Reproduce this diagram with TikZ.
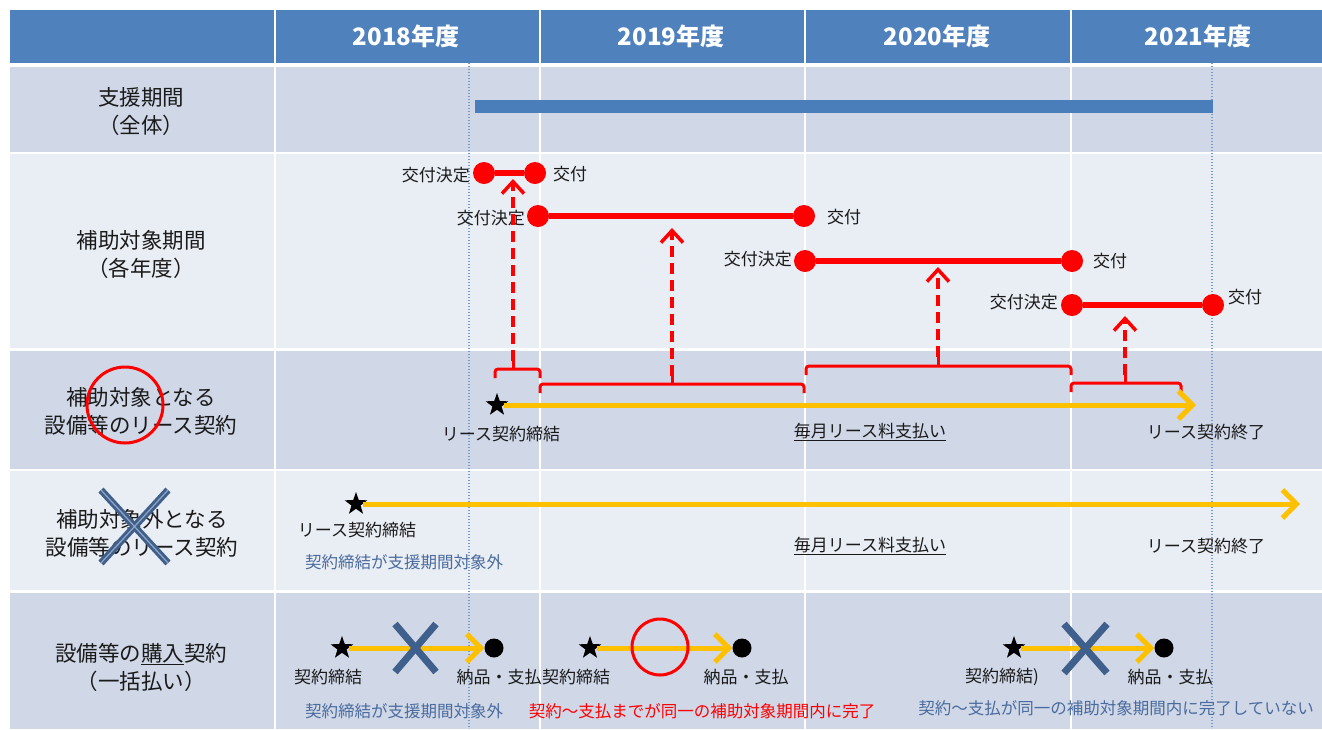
\documentclass[tikz,border=0pt]{standalone}
\usepackage{fontspec}
\setmainfont{Noto Sans CJK JP}
\usetikzlibrary{arrows.meta,shapes.geometric}
\definecolor{hdr}{HTML}{4F81BD}
\definecolor{rowdark}{HTML}{D0D8E8}
\definecolor{rowlight}{HTML}{E9EDF4}
\definecolor{barblue}{HTML}{4A7EBB}
\definecolor{orangeC}{HTML}{FFC000}
\definecolor{xblue}{HTML}{3F5F8C}
\definecolor{noteblue}{HTML}{4A6B9D}
\definecolor{txt}{HTML}{1A1A1A}
\begin{document}
\begin{tikzpicture}[x=1pt,y=-1pt,
  hdrtext/.style={text=white,font=\fontsize{24}{28}\selectfont\bfseries,inner sep=0},
  rowlab/.style={text=txt,font=\fontsize{21.5}{28}\selectfont,align=center,inner sep=0},
  lab/.style={text=txt,font=\fontsize{17}{20}\selectfont,inner sep=0},
  note/.style={font=\fontsize{16.5}{20}\selectfont,inner sep=0},
  redline/.style={draw=red,line width=6},
  reddot/.style={circle,fill=red,minimum size=22,inner sep=0},
  redarrow/.style={draw=red,line width=3.5,dash pattern=on 11 off 6,-{Straight Barb[length=12pt,width=22pt]}},
  bracketline/.style={draw=red,line width=3,rounded corners=3},
  orangearrow/.style={draw=orangeC,line width=5,-{Straight Barb[length=14pt,width=28pt]}},
  starmark/.style={star,star points=5,star point ratio=2.5,fill=black,minimum size=24,inner sep=0},
  blackdot/.style={circle,fill=black,minimum size=19,inner sep=0},
  xmark/.style={draw=xblue,line width=7},
  gridline/.style={draw=white,line width=2.5},
  dotline/.style={draw=hdr!80!white,line width=1.2,dash pattern=on 1.2 off 1.8}
]
\useasboundingbox (0,0) rectangle (1322,729);
% table background
\fill[hdr] (10,10) rectangle (1322,64);
\fill[rowdark] (10,64) rectangle (1322,153);
\fill[rowlight] (10,153) rectangle (1322,349.5);
\fill[rowdark] (10,349.5) rectangle (1322,470);
\fill[rowlight] (10,470) rectangle (1322,591.5);
\fill[rowdark] (10,591.5) rectangle (1322,729);
\foreach \yy in {65,153,349.5,470,591.5} \draw[gridline] (10,\yy) -- (1322,\yy);
\draw[gridline,line width=3.5] (10,65) -- (1322,65);
\foreach \xx in {274.5,539.5,805,1070.5} \draw[gridline,line width=2] (\xx,10) -- (\xx,729);
% dotted guides
\draw[dotline] (469,63) -- (469,729);
\draw[dotline] (1212,63) -- (1212,729);
% header
\node[hdrtext] (h1) at (406,36) {2018年度};
\node[hdrtext] (h2) at (671,36) {2019年度};
\node[hdrtext] (h3) at (937,36) {2020年度};
\node[hdrtext] (h4) at (1198,36) {2021年度};
% row labels
\node[rowlab] (r1) at (141,111) {支援期間\\（全体）};
\node[rowlab] (r2) at (141,254) {補助対象期間\\（各年度）};
\node[rowlab] (r3) at (141,411) {補助対象となる\\設備等のリース契約};
\node[rowlab] (r4) at (142,533) {補助対象外となる\\設備等のリース契約};
\node[rowlab] (r5) at (141,667) {設備等の\underline{購入}契約\\（一括払い）};
% support period bar
\draw[draw=barblue,line width=13] (475,106.5) -- (1213,106.5);
% grant periods
\node[reddot] (a1) at (484,173) {};
\node[reddot] (b1) at (535,173) {};
\node[reddot] (a2) at (538,216) {};
\node[reddot] (b2) at (804,216) {};
\node[reddot] (a3) at (805,261) {};
\node[reddot] (b3) at (1072,261) {};
\node[reddot] (a4) at (1072,305) {};
\node[reddot] (b4) at (1213,305) {};
\draw[redline] (a1) -- (b1);
\draw[redline] (a2) -- (b2);
\draw[redline] (a3) -- (b3);
\draw[redline] (a4) -- (b4);
\node[lab,anchor=east] (k1) at (470,175) {交付決定};
\node[lab,anchor=west] (g1) at (553,174) {交付};
\node[lab,anchor=east] (k2) at (525,218) {交付決定};
\node[lab,anchor=west] (g2) at (827,217) {交付};
\node[lab,anchor=east] (k3) at (792,259) {交付決定};
\node[lab,anchor=west] (g3) at (1093,261) {交付};
\node[lab,anchor=east] (k4) at (1058,302) {交付決定};
\node[lab,anchor=west] (g4) at (1228,297) {交付};
% brackets
\draw[bracketline] (495,378) -- (495,369) -- (540,369) -- (540,378);
\draw[bracketline] (513,369) -- (513,361);
\draw[bracketline] (540,393) -- (540,384) -- (804,384) -- (804,393);
\draw[bracketline] (672,384) -- (672,376);
\draw[bracketline] (806,375) -- (806,366) -- (1071,366) -- (1071,375);
\draw[bracketline] (938,366) -- (938,357);
\draw[bracketline] (1071,392) -- (1071,383) -- (1181,383) -- (1181,392);
\draw[bracketline] (1125,383) -- (1125,375);
\coordinate (p1) at (513,361);
\coordinate (t1) at (513,179);
\coordinate (p2) at (672,376);
\coordinate (t2) at (672,228);
\coordinate (p3) at (938,357);
\coordinate (t3) at (938,267);
\coordinate (p4) at (1125,375);
\coordinate (t4) at (1125,316);
\draw[redarrow] (p1) -- (t1);
\draw[redarrow] (p2) -- (t2);
\draw[redarrow] (p3) -- (t3);
\draw[redarrow] (p4) -- (t4);
% row 3: eligible lease
\node[draw=red,line width=3,circle,minimum size=76,inner sep=0] (c1) at (125,405) {};
\node[starmark] (s3) at (497,405) {};
\coordinate (e3) at (1196,405);
\draw[orangearrow] (s3) -- (e3);
\node[lab] (l3a) at (501,434) {リース契約締結};
\node[lab] (l3b) at (870,432) {\underline{毎月リース料支払い}};
\node[lab] (l3c) at (1206,432) {リース契約終了};
% row 4: non-eligible lease
\draw[xmark] (101,490) -- (168,563);
\draw[xmark] (168,490) -- (101,563);
\draw[draw=xblue!55!white,line width=1.2] (101,490) -- (168,563);
\draw[draw=xblue!55!white,line width=1.2] (168,490) -- (101,563);
\node[starmark] (s4) at (356,504) {};
\coordinate (e4) at (1300,504);
\draw[orangearrow] (s4) -- (e4);
\node[lab] (l4a) at (357,530) {リース契約締結};
\node[note,text=noteblue] (l4n) at (404,562) {契約締結が支援期間対象外};
\node[lab] (l4b) at (870,546) {\underline{毎月リース料支払い}};
\node[lab] (l4c) at (1206,546) {リース契約終了};
% row 5: purchase
\node[starmark] (s5a) at (342,648) {};
\node[blackdot] (d5a) at (494,648) {};
\draw[orangearrow] (s5a) -- (d5a);
\draw[xmark] (395,624) -- (436,672);
\draw[xmark] (436,624) -- (395,672);
\node[lab] (l5a) at (328,677) {契約締結};
\node[lab] (l5b) at (499,677) {納品・支払};
\node[starmark] (s5b) at (590,648) {};
\node[blackdot] (d5b) at (742,648) {};
\draw[orangearrow] (s5b) -- (d5b);
\node[draw=red,line width=3,circle,minimum size=56,inner sep=0] (c2) at (660,647) {};
\node[lab] (l5c) at (576,677) {契約締結};
\node[lab] (l5d) at (746,677) {納品・支払};
\node[starmark] (s5c) at (1014,648) {};
\node[blackdot] (d5c) at (1164,648) {};
\draw[orangearrow] (s5c) -- (d5c);
\draw[xmark] (1064,624) -- (1107,673);
\draw[xmark] (1107,624) -- (1064,673);
\node[lab] (l5e) at (1002,677) {契約締結)};
\node[lab] (l5f) at (1170,677) {納品・支払};
\node[note,text=noteblue] (n1) at (404,711) {契約締結が支援期間対象外};
\node[note,text=red] (n2) at (702,711) {契約～支払までが同一の補助対象期間内に完了};
\node[note,text=noteblue] (n3) at (1116,708) {契約～支払が同一の補助対象期間内に完了していない};
\end{tikzpicture}
\end{document}
